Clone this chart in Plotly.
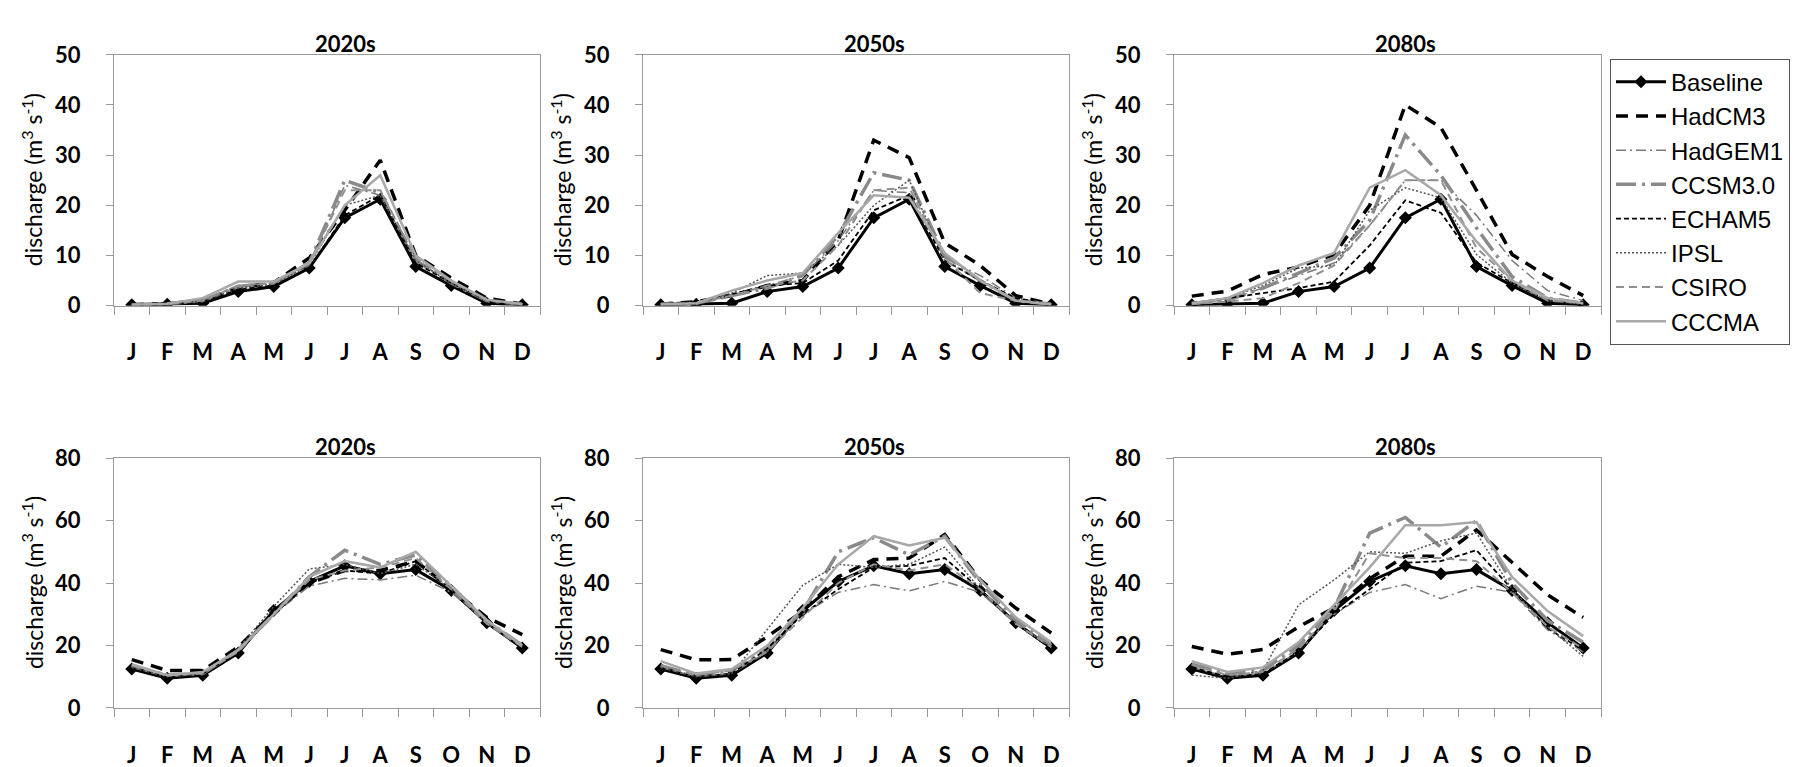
import plotly.graph_objects as go

months = ["J", "F", "M", "A", "M", "J", "J", "A", "S", "O", "N", "D"]
periods = ["2020s", "2050s", "2080s"]
models = ["Baseline", "HadCM3", "HadGEM1", "CCSM3.0", "ECHAM5", "IPSL", "CSIRO", "CCCMA"]

# ---- top row (upper catchment), m3/s ----
top_baseline = [0.2, 0.3, 0.5, 2.8, 3.8, 7.5, 17.5, 21.2, 7.8, 4.0, 0.5, 0.2]

top_2020s_hadcm3 = [0.2, 0.4, 1.0, 3.5, 4.6, 9.5, 19.0, 29.0, 10.0, 5.5, 1.5, 0.3]
top_2020s_hadgem1 = [0.2, 0.4, 1.2, 4.0, 4.5, 8.0, 24.0, 22.0, 9.0, 4.5, 1.0, 0.3]
top_2020s_ccsm3 = [0.2, 0.4, 1.0, 3.8, 4.5, 8.5, 25.0, 22.5, 9.0, 4.5, 1.0, 0.3]
top_2020s_echam5 = [0.2, 0.3, 0.8, 3.2, 4.0, 7.5, 18.0, 22.0, 8.5, 4.5, 1.0, 0.2]
top_2020s_ipsl = [0.2, 0.3, 0.8, 3.5, 4.3, 8.0, 20.0, 22.0, 9.0, 4.5, 1.0, 0.2]
top_2020s_csiro = [0.2, 0.3, 1.0, 4.0, 4.5, 8.5, 23.0, 23.0, 9.5, 5.0, 1.0, 0.3]
top_2020s_cccma = [0.2, 0.4, 1.5, 4.8, 4.8, 8.5, 20.0, 26.0, 10.0, 5.0, 1.2, 0.3]

top_2050s_hadcm3 = [0.3, 0.8, 2.0, 4.0, 5.0, 13.0, 33.0, 29.5, 12.5, 8.0, 2.0, 0.3]
top_2050s_hadgem1 = [0.3, 0.5, 2.0, 4.0, 6.0, 13.0, 23.0, 22.5, 9.5, 6.0, 1.5, 0.3]
top_2050s_ccsm3 = [0.3, 0.5, 2.0, 3.5, 6.0, 14.0, 26.5, 25.0, 10.0, 5.0, 1.0, 0.3]
top_2050s_echam5 = [0.3, 0.8, 2.3, 4.0, 4.5, 9.0, 19.0, 22.0, 9.0, 5.0, 1.5, 0.3]
top_2050s_ipsl = [0.3, 0.5, 2.5, 6.0, 6.5, 12.0, 20.0, 25.0, 9.0, 5.0, 1.0, 0.3]
top_2050s_csiro = [0.3, 0.5, 2.0, 4.0, 5.0, 12.0, 23.0, 23.5, 9.5, 2.5, 1.0, 0.3]
top_2050s_cccma = [0.3, 0.5, 3.0, 5.0, 6.5, 14.5, 22.0, 21.5, 10.5, 5.0, 1.0, 0.3]

top_2080s_hadcm3 = [1.9, 2.9, 6.2, 7.7, 10.2, 20.0, 40.0, 35.5, 23.0, 10.2, 5.8, 2.0]
top_2080s_hadgem1 = [0.5, 1.2, 3.5, 6.0, 8.5, 16.0, 25.0, 25.0, 18.0, 9.0, 3.0, 1.0]
top_2080s_ccsm3 = [0.5, 1.0, 3.5, 6.5, 9.5, 17.0, 34.0, 26.0, 15.5, 5.8, 1.5, 0.5]
top_2080s_echam5 = [0.5, 1.5, 2.5, 3.5, 4.8, 12.0, 21.0, 18.5, 8.6, 4.5, 1.0, 0.3]
top_2080s_ipsl = [0.5, 1.5, 4.0, 7.5, 8.0, 19.0, 23.5, 21.5, 10.2, 4.5, 1.0, 0.3]
top_2080s_csiro = [0.3, 0.8, 1.5, 4.5, 8.0, 16.0, 25.0, 25.0, 11.5, 5.0, 1.0, 0.5]
top_2080s_cccma = [0.5, 1.5, 4.5, 8.0, 10.5, 23.5, 27.0, 22.0, 12.8, 5.0, 1.5, 0.5]

# ---- bottom row (lower catchment), m3/s ----
bot_baseline = [12.5, 9.5, 10.5, 17.6, 31.2, 40.5, 45.5, 43.0, 44.3, 37.6, 27.3, 19.2]

bot_2020s_hadcm3 = [15.5, 12.0, 12.0, 19.5, 30.5, 40.0, 44.0, 44.0, 47.0, 38.0, 29.0, 23.5]
bot_2020s_hadgem1 = [13.0, 10.0, 11.0, 18.0, 30.0, 39.0, 41.5, 41.0, 42.5, 37.0, 28.0, 20.0]
bot_2020s_ccsm3 = [13.5, 10.5, 11.0, 18.5, 30.0, 42.0, 50.5, 46.0, 49.0, 39.0, 28.0, 20.0]
bot_2020s_echam5 = [13.0, 10.0, 11.0, 18.0, 30.0, 40.0, 44.0, 43.0, 47.0, 38.0, 27.0, 19.5]
bot_2020s_ipsl = [13.0, 10.0, 11.0, 19.0, 32.5, 44.5, 46.0, 43.0, 46.0, 38.0, 27.0, 19.5]
bot_2020s_csiro = [13.5, 10.5, 11.0, 18.0, 30.0, 41.0, 44.0, 45.0, 48.0, 38.0, 27.0, 19.5]
bot_2020s_cccma = [14.0, 10.5, 11.5, 18.5, 30.0, 42.0, 47.0, 45.0, 50.0, 39.0, 28.0, 20.0]

bot_2050s_hadcm3 = [18.7, 15.4, 15.5, 22.8, 31.0, 42.0, 47.5, 48.0, 55.5, 41.0, 32.0, 24.0]
bot_2050s_hadgem1 = [13.0, 10.0, 11.0, 18.0, 30.0, 37.0, 39.5, 37.5, 40.5, 37.0, 27.0, 19.5]
bot_2050s_ccsm3 = [13.5, 10.5, 12.0, 19.0, 31.0, 50.0, 54.5, 49.0, 55.0, 40.0, 28.0, 20.0]
bot_2050s_echam5 = [13.0, 10.0, 11.0, 19.0, 30.0, 38.0, 45.0, 45.5, 48.0, 38.0, 27.0, 19.0]
bot_2050s_ipsl = [13.0, 10.0, 11.0, 25.0, 39.3, 46.0, 45.0, 46.0, 51.5, 38.0, 27.0, 19.5]
bot_2050s_csiro = [13.5, 10.5, 12.0, 18.0, 29.0, 40.0, 46.0, 44.0, 46.0, 38.0, 27.0, 19.5]
bot_2050s_cccma = [15.0, 11.0, 12.5, 20.0, 32.0, 46.0, 55.0, 52.0, 54.5, 41.0, 29.0, 21.0]

bot_2080s_hadcm3 = [19.7, 17.2, 18.7, 26.0, 32.0, 41.4, 48.6, 48.6, 57.0, 46.5, 36.2, 29.0]
bot_2080s_hadgem1 = [13.0, 10.0, 11.0, 18.0, 30.0, 37.0, 39.5, 35.0, 39.0, 37.0, 25.0, 18.0]
bot_2080s_ccsm3 = [14.0, 11.0, 12.0, 20.0, 32.0, 56.0, 61.0, 51.5, 60.0, 40.0, 28.0, 21.0]
bot_2080s_echam5 = [13.0, 10.0, 11.0, 18.0, 30.0, 38.0, 46.5, 47.0, 50.5, 38.0, 25.5, 18.5]
bot_2080s_ipsl = [10.5, 9.5, 12.0, 33.0, 41.0, 50.0, 49.5, 53.5, 56.0, 38.0, 26.0, 16.5]
bot_2080s_csiro = [14.0, 10.5, 11.5, 19.0, 31.0, 49.5, 48.0, 48.0, 47.0, 37.0, 26.0, 19.0]
bot_2080s_cccma = [15.0, 11.5, 13.0, 21.0, 33.0, 45.0, 58.5, 58.5, 59.5, 42.0, 31.0, 23.0]

top_panels = [
    [top_baseline, top_2020s_hadcm3, top_2020s_hadgem1, top_2020s_ccsm3, top_2020s_echam5, top_2020s_ipsl, top_2020s_csiro, top_2020s_cccma],
    [top_baseline, top_2050s_hadcm3, top_2050s_hadgem1, top_2050s_ccsm3, top_2050s_echam5, top_2050s_ipsl, top_2050s_csiro, top_2050s_cccma],
    [top_baseline, top_2080s_hadcm3, top_2080s_hadgem1, top_2080s_ccsm3, top_2080s_echam5, top_2080s_ipsl, top_2080s_csiro, top_2080s_cccma],
]
bot_panels = [
    [bot_baseline, bot_2020s_hadcm3, bot_2020s_hadgem1, bot_2020s_ccsm3, bot_2020s_echam5, bot_2020s_ipsl, bot_2020s_csiro, bot_2020s_cccma],
    [bot_baseline, bot_2050s_hadcm3, bot_2050s_hadgem1, bot_2050s_ccsm3, bot_2050s_echam5, bot_2050s_ipsl, bot_2050s_csiro, bot_2050s_cccma],
    [bot_baseline, bot_2080s_hadcm3, bot_2080s_hadgem1, bot_2080s_ccsm3, bot_2080s_echam5, bot_2080s_ipsl, bot_2080s_csiro, bot_2080s_cccma],
]

styles = {
    "Baseline": dict(color="#000000", width=3, dash="solid"),
    "HadCM3": dict(color="#000000", width=3.5, dash="12px,8px"),
    "HadGEM1": dict(color="#7a7a7a", width=1.5, dash="10px,4px,2px,4px"),
    "CCSM3.0": dict(color="#8a8a8a", width=3.5, dash="20px,6px,3px,6px"),
    "ECHAM5": dict(color="#000000", width=1.8, dash="5px,3px"),
    "IPSL": dict(color="#555555", width=1.5, dash="2px,2px"),
    "CSIRO": dict(color="#909090", width=2, dash="8px,5px"),
    "CCCMA": dict(color="#a8a8a8", width=2.5, dash="solid"),
}

W, H = 1798, 767
x_px = [(106, 532), (635, 1061), (1166, 1593)]
y_px = [(34, 294), (452, 711)]
ranges = [[0, 50], [0, 80]]
dticks = [10, 20]

FONT_B = "Lato"
AX = "#9a9a9a"
TICK_SIZE = 22

fig = go.Figure()
annotations = []
xs = list(range(12))

for r, panels in enumerate([top_panels, bot_panels]):
    for c, series in enumerate(panels):
        idx = r * 3 + c + 1
        xa = "x" if idx == 1 else f"x{idx}"
        ya = "y" if idx == 1 else f"y{idx}"
        for m, vals in zip(models, series):
            st = styles[m]
            tr = go.Scatter(
                x=xs, y=vals, xaxis=xa, yaxis=ya, name=m,
                legendgroup=m, showlegend=(idx == 1),
                mode="lines+markers" if m == "Baseline" else "lines",
                line=dict(color=st["color"], width=st["width"], dash=st["dash"]),
            )
            if m == "Baseline":
                tr.marker = dict(symbol="diamond", size=10, color="#000000")
            fig.add_trace(tr)
        x0, x1 = x_px[c]
        y0, y1 = y_px[r]
        xdom = [x0 / W, x1 / W]
        ydom = [1 - y1 / H, 1 - y0 / H]
        fig.layout[("xaxis" if idx == 1 else f"xaxis{idx}")] = dict(
            domain=xdom, anchor=ya, range=[-0.5, 11.5],
            tickvals=xs, ticktext=months, ticks="", ticklabelstandoff=27,
            tickfont=dict(family=FONT_B, size=TICK_SIZE, color="#000000", weight="bold"),
            showline=True, linecolor=AX, linewidth=1.3, mirror=True,
            showgrid=False, zeroline=False,
            minor=dict(tickvals=[i - 0.5 for i in range(13)], ticks="outside",
                       ticklen=8, tickcolor=AX, tickwidth=1.2),
        )
        fig.layout[("yaxis" if idx == 1 else f"yaxis{idx}")] = dict(
            domain=ydom, anchor=xa, range=ranges[r], dtick=dticks[r],
            ticks="outside", ticklen=7, tickcolor=AX, tickwidth=1.2,
            ticklabelstandoff=21,
            tickfont=dict(family=FONT_B, size=TICK_SIZE, color="#000000", weight="bold"),
            showline=True, linecolor=AX, linewidth=1.3, mirror=True,
            showgrid=False, zeroline=False,
        )
        # panel title
        annotations.append(dict(
            text=periods[c], xref="paper", yref="paper",
            x=((x0 + x1) / 2 + 18) / W, y=1 - (y0 - 12) / H,
            xanchor="center", yanchor="middle", showarrow=False,
            font=dict(family=FONT_B, size=22, color="#000000", weight="bold"),
        ))
        # y-axis title
        annotations.append(dict(
            text="discharge (m<sup>3</sup> s<sup>-1</sup>)", xref="paper", yref="paper",
            x=(x0 - 82) / W, y=1 - ((y0 + y1) / 2) / H, textangle=-90,
            xanchor="center", yanchor="middle", showarrow=False,
            font=dict(family=FONT_B, size=23, color="#000000"),
        ))

fig.update_layout(
    width=W, height=H,
    margin=dict(l=0, r=0, t=0, b=0),
    paper_bgcolor="white", plot_bgcolor="white",
    annotations=annotations,
    showlegend=True,
    legend=dict(
        x=1602 / W, y=1 - 38 / H, xanchor="left", yanchor="top",
        bordercolor="#555555", borderwidth=1, bgcolor="white",
        font=dict(family="Liberation Sans", size=24, color="#000000"),
        itemwidth=50, tracegroupgap=0, traceorder="normal",
    ),
)

fig.write_html("out.html")
